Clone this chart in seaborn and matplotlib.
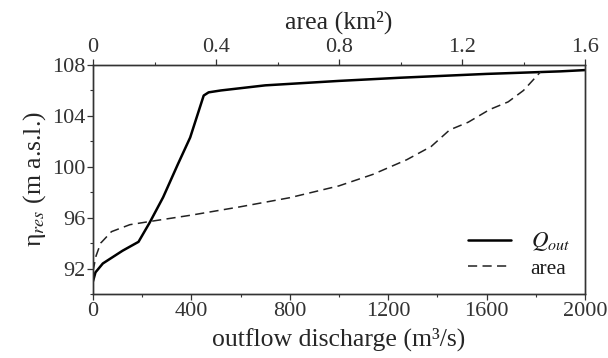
import matplotlib
matplotlib.use("Agg")
import matplotlib.pyplot as plt
import seaborn as sns
import pandas as pd
from matplotlib.ticker import MultipleLocator

# Outflow rating curve: discharge (m3/s) vs reservoir level (m a.s.l.)
q_out = [0, 10, 40, 120, 185, 230, 285, 345, 395, 450, 470, 520, 700,
         1000, 1250, 1600, 1900, 2000]
eta_q = [91.0, 91.7, 92.4, 93.4, 94.1, 95.6, 97.6, 100.2, 102.3, 105.6,
         105.85, 106.0, 106.4, 106.75, 107.0, 107.3, 107.5, 107.6]

# Reservoir surface area (km2) vs level
area = [0, 0.01, 0.025, 0.06, 0.12, 0.185, 0.32, 0.48, 0.64, 0.80, 0.91,
        1.02, 1.10, 1.16, 1.22, 1.29, 1.35, 1.40, 1.455]
eta_a = [91.8, 93.0, 94.0, 94.9, 95.45, 95.7, 96.2, 96.86, 97.57, 98.5,
         99.4, 100.55, 101.6, 102.9, 103.5, 104.5, 105.1, 106.0, 107.45]

q_ticks = [0, 400, 800, 1200, 1600, 2000]
a_ticks = [0, 0.4, 0.8, 1.2, 1.6]
eta_ticks = [92, 96, 100, 104, 108]

sns.set_style("ticks")
plt.rcParams["font.family"] = ["Liberation Serif", "DejaVu Serif"]
plt.rcParams["mathtext.fontset"] = "stix"
plt.rcParams["axes.edgecolor"] = "#333333"
plt.rcParams["xtick.color"] = "#333333"
plt.rcParams["ytick.color"] = "#333333"
plt.rcParams["text.color"] = "#1a1a1a"

fig = plt.figure(figsize=(6.08, 3.58), dpi=100)
ax = fig.add_axes([93 / 608, 1 - 294 / 358, (585 - 93) / 608, (294 - 65) / 358])

df_q = pd.DataFrame({"q": q_out, "eta": eta_q})
df_a = pd.DataFrame({"a": area, "eta": eta_a})

sns.lineplot(data=df_q, x="q", y="eta", ax=ax, color="black", lw=1.8,
             sort=False, estimator=None, label=r"$Q_{out}$", legend=False)
ax.set_xlim(0, 2000)
ax.set_ylim(90, 108)
ax.set_xticks(q_ticks)
ax.set_yticks(eta_ticks)
ax.xaxis.set_minor_locator(MultipleLocator(200))
ax.yaxis.set_minor_locator(MultipleLocator(2))
ax.set_xlabel("outflow discharge (m³/s)", fontsize=18.5, labelpad=5)
ax.set_ylabel(r"η$_{res}$ (m a.s.l.)", fontsize=18.5, labelpad=3)

ax2 = ax.twiny()
sns.lineplot(data=df_a, x="a", y="eta", ax=ax2, color="#222222", lw=1.1,
             sort=False, estimator=None, label="area", legend=False)
ax2.lines[0].set_dashes([6, 3.5])
ax2.set_xlim(0, 1.6)
ax2.set_xticks(a_ticks)
ax2.set_xticklabels(["0", "0.4", "0.8", "1.2", "1.6"])
ax2.xaxis.set_minor_locator(MultipleLocator(0.2))
ax2.set_xlabel("area (km²)", fontsize=18.5, labelpad=7)

for a in (ax, ax2):
    for s in a.spines.values():
        s.set_linewidth(1.0)
        s.set_visible(True)
    a.tick_params(which="major", length=4, width=0.9, labelsize=16, pad=1.5)
    a.tick_params(which="minor", length=2.5, width=0.8)
ax2.set_ylim(90, 108)

h1, l1 = ax.get_legend_handles_labels()
h2, l2 = ax2.get_legend_handles_labels()
leg = ax2.legend(h1 + h2, l1 + l2, loc="lower right", frameon=False,
                 fontsize=15.5, handlelength=2.0, borderaxespad=0.3,
                 labelspacing=0.25, handletextpad=0.9)
leg.get_texts()[0].set_fontsize(16.5)

fig.savefig("out.png", dpi=100)
